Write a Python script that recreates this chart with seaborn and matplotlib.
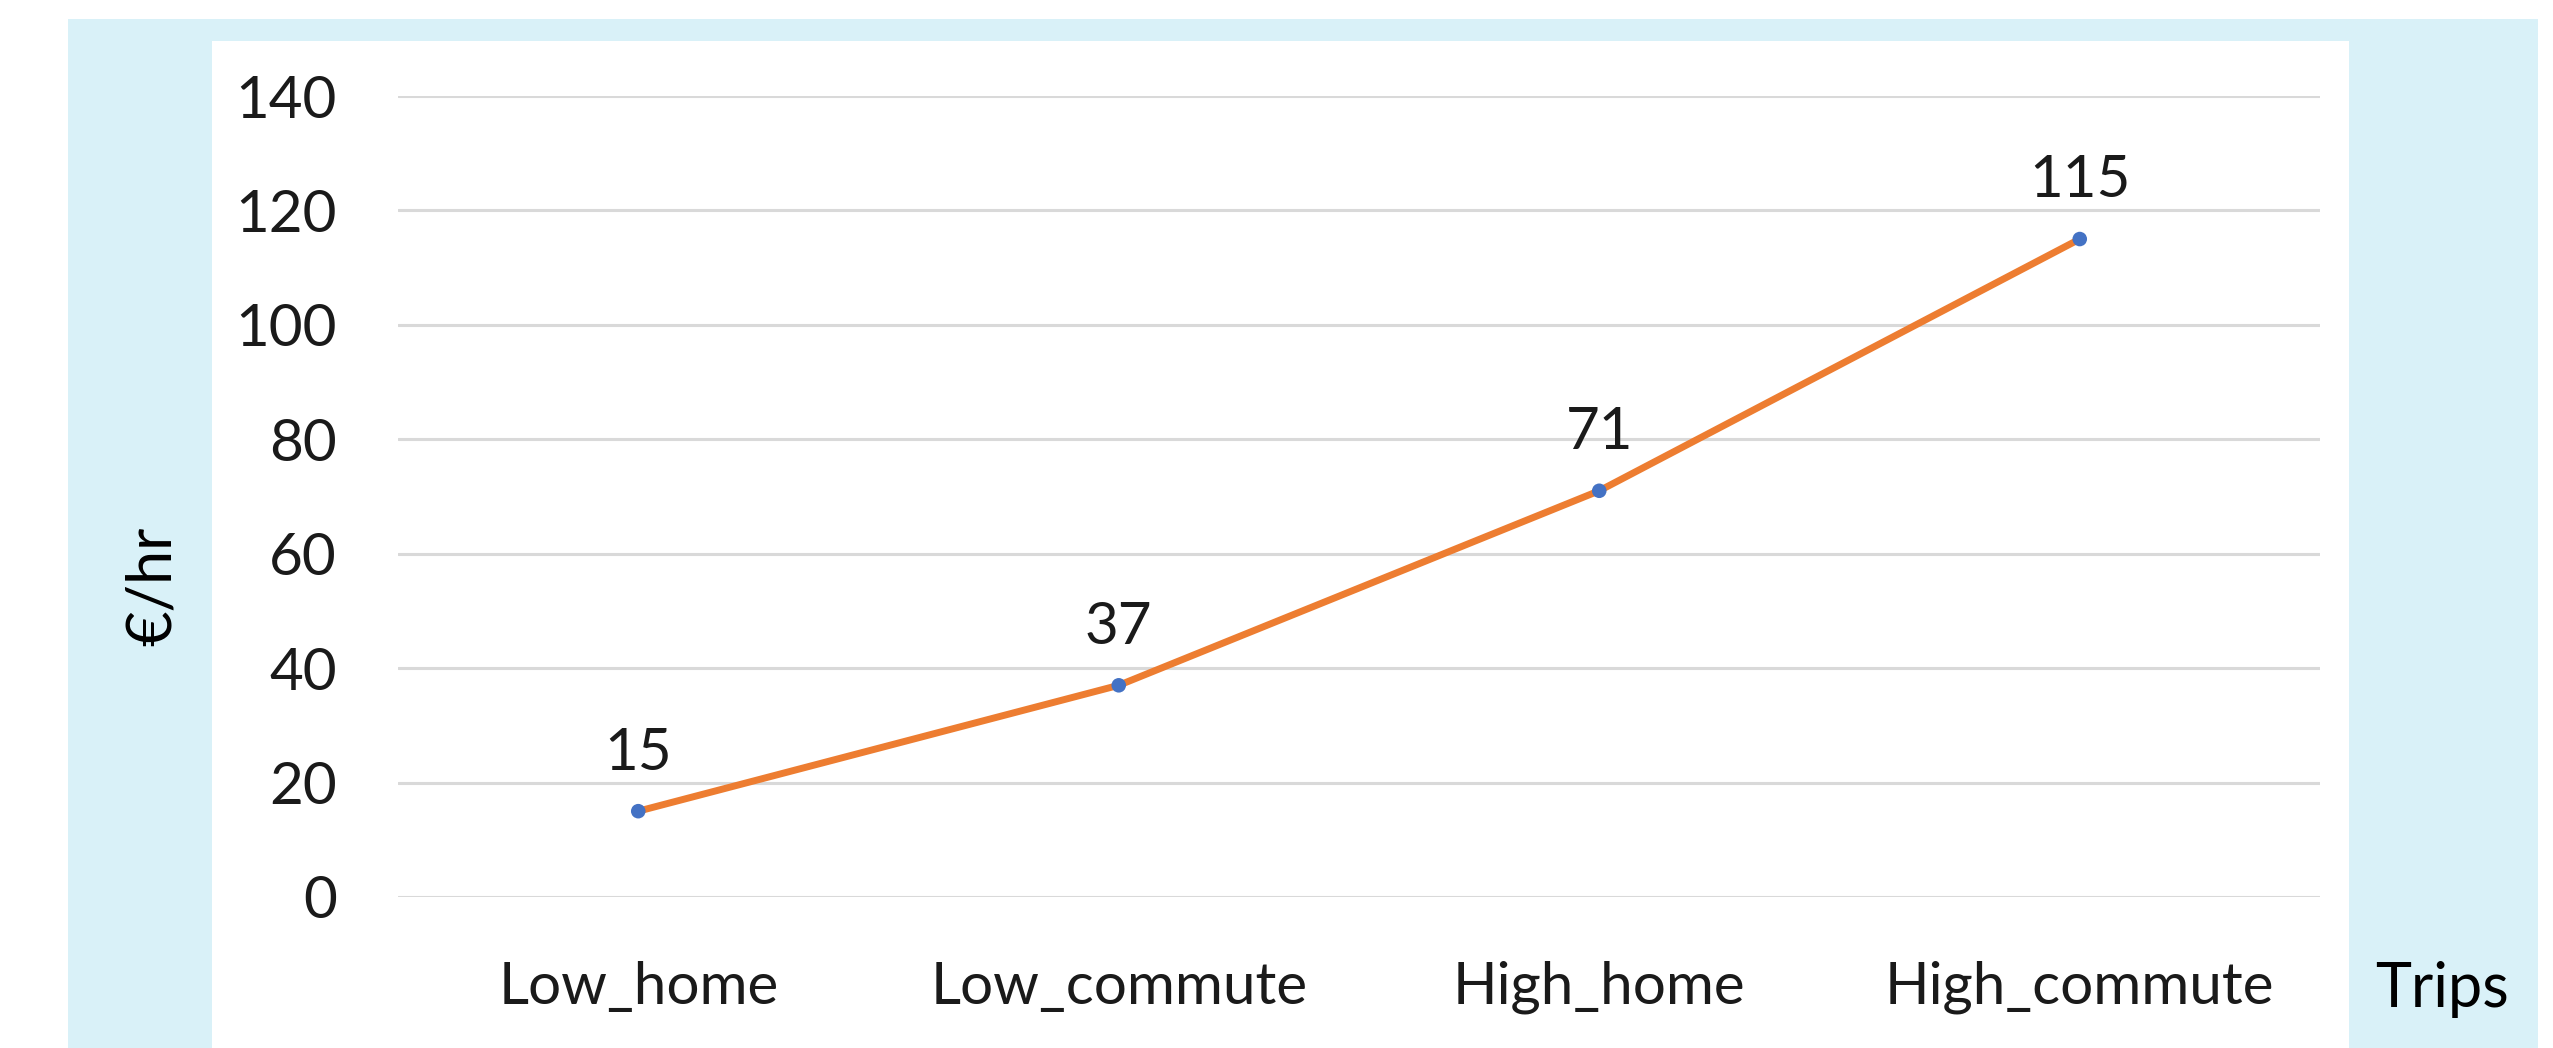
import matplotlib
matplotlib.use("Agg")
import matplotlib.pyplot as plt
from matplotlib.patches import Rectangle
import seaborn as sns
import pandas as pd

# Data
trips = ["Low_home", "Low_commute", "High_home", "High_commute"]
cost_per_hr = [15, 37, 71, 115]
y_ticks = [0, 20, 40, 60, 80, 100, 120, 140]

df = pd.DataFrame({"trip": trips, "cost": cost_per_hr})

sns.set_style("white")
plt.rcParams['font.family'] = ['Lato', 'DejaVu Sans']

W, H = 2553, 1048
fig = plt.figure(figsize=(W / 100, H / 100), dpi=100)
fig.patch.set_facecolor("white")

# light blue slide background and white chart panel
fig.patches.append(Rectangle((68 / W, 0), (2538 - 68) / W, (H - 19) / H,
                             transform=fig.transFigure, facecolor="#D9F1F8",
                             edgecolor="none", zorder=-2))
fig.patches.append(Rectangle((212 / W, 0), (2349 - 212) / W, (H - 41) / H,
                             transform=fig.transFigure, facecolor="white",
                             edgecolor="none", zorder=-1))

ax = fig.add_axes([398 / W, (H - 897) / H, (2320 - 398) / W, (897 - 96) / H])
ax.set_zorder(1)
ax.set_facecolor("none")

sns.lineplot(data=df, x="trip", y="cost", color="#ED7D31", linewidth=5,
             sort=False, ax=ax, zorder=3)
sns.scatterplot(data=df, x="trip", y="cost", color="#4472C4", s=110,
                edgecolor="none", ax=ax, zorder=4)

for i, v in enumerate(cost_per_hr):
    ax.annotate(str(v), (i, v), xytext=(0, 30), textcoords="offset points",
                ha="center", va="baseline", fontsize=42, color="#1a1a1a")

ax.set_xlim(-0.5, 3.5)
ax.set_ylim(0, 140)
ax.set_yticks(y_ticks)
ax.grid(axis="y", color="#D9D9D9", linewidth=2.2)
ax.grid(axis="x", visible=False)
ax.set_axisbelow(True)
for s in ax.spines.values():
    s.set_visible(False)
ax.tick_params(axis="both", length=0, labelsize=42, labelcolor="#1a1a1a")
ax.tick_params(axis="y", pad=44)
ax.tick_params(axis="x", pad=46)
ax.set_xlabel("")
ax.set_ylabel("")

fig.text(153 / W, 1 - 586 / H, "€/hr", rotation=90, ha="center", va="center",
         fontsize=44, color="black")
fig.text(2442 / W, 1 - 990 / H, "Trips", ha="center", va="center",
         fontsize=44, color="black")

fig.savefig("out.png", dpi=100)
